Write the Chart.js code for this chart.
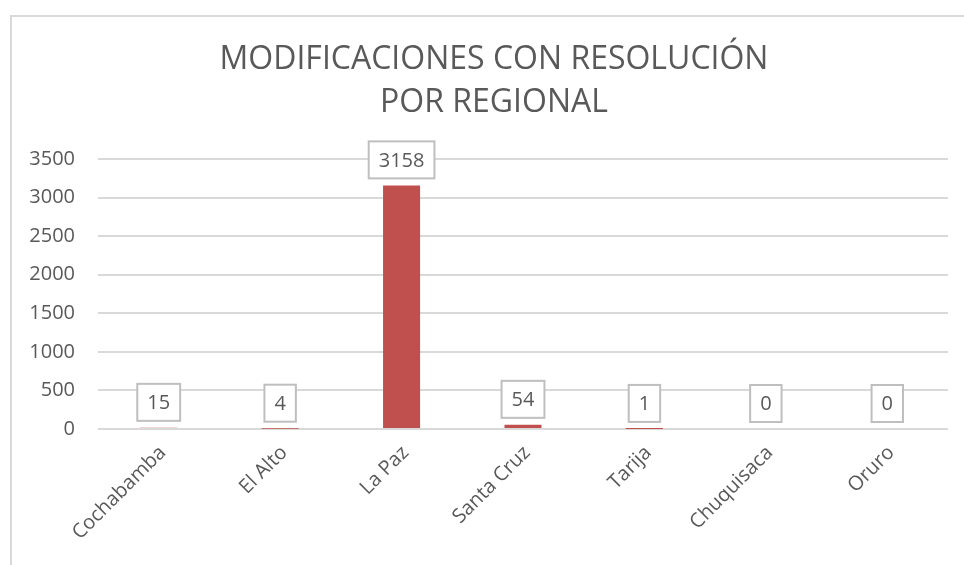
<!DOCTYPE html>
<html>
<head>
<meta charset="utf-8">
<script src="https://cdn.jsdelivr.net/npm/chart.js@4/dist/chart.umd.min.js"></script>
<style>
  html, body { margin: 0; padding: 0; background: #fff; overflow: hidden; width: 964px; height: 565px; }
  #wrap { position: absolute; left: 0; top: 0; width: 988px; height: 565px; }
  #frame { position: absolute; left: 10px; top: 15px; width: 1200px; height: 800px;
           border-left: 2px solid #d9d9d9; border-top: 2px solid #d9d9d9; pointer-events: none; }
</style>
</head>
<body>
<div id="wrap"><canvas id="c" width="988" height="565"></canvas></div>
<div id="frame"></div>
<script>
const categories = ["Cochabamba", "El Alto", "La Paz", "Santa Cruz", "Tarija", "Chuquisaca", "Oruro"];
const values = [15, 4, 3158, 54, 1, 0, 0];
const titleLines = ["MODIFICACIONES CON RESOLUCIÓN", "POR REGIONAL"];
const yMin = 0, yMax = 3500, yStep = 500;

const FONT = "'Open Sans', sans-serif";
const TEXT = "#595959";

// Title drawn centred over the whole chart object (which extends past the right edge)
const chartTitle = {
  id: 'chartTitle',
  afterDraw(chart) {
    const ctx = chart.ctx;
    ctx.save();
    ctx.font = "32px " + FONT;
    ctx.fillStyle = TEXT;
    ctx.textAlign = 'center';
    ctx.textBaseline = 'middle';
    titleLines.forEach((t, i) => ctx.fillText(t, 494, 60 + i * 43));
    ctx.restore();
  }
};

const boxLabels = {
  id: 'boxLabels',
  afterDatasetsDraw(chart) {
    const ctx = chart.ctx;
    const meta = chart.getDatasetMeta(0);
    ctx.save();
    ctx.font = "20px " + FONT;
    ctx.textAlign = 'center';
    ctx.textBaseline = 'middle';
    meta.data.forEach((el, i) => {
      const txt = String(chart.data.datasets[0].data[i]);
      const w = ctx.measureText(txt).width + 20;
      const h = 37;
      const bottom = el.y - 7;
      const top = bottom - h;
      ctx.fillStyle = '#fff';
      ctx.fillRect(el.x - w / 2, top, w, h);
      ctx.strokeStyle = '#bfbfbf';
      ctx.lineWidth = 2;
      ctx.strokeRect(el.x - w / 2, top, w, h);
      ctx.fillStyle = TEXT;
      ctx.fillText(txt, el.x, top + h / 2 + 1);
    });
    ctx.restore();
  }
};

new Chart(document.getElementById('c'), {
  type: 'bar',
  data: {
    labels: categories,
    datasets: [{
      data: values,
      backgroundColor: '#C0504D',
      borderWidth: 0,
      barPercentage: 0.305,
      categoryPercentage: 1.0
    }]
  },
  options: {
    responsive: false,
    animation: false,
    layout: { padding: { left: 0, right: 40, top: 159, bottom: 0 } },
    plugins: {
      legend: { display: false },
      tooltip: { enabled: false },
      title: { display: false }
    },
    scales: {
      y: {
        min: yMin, max: yMax,
        ticks: { stepSize: yStep, color: TEXT, font: { family: FONT, size: 20 }, padding: 23,
                 callback: (v) => String(v) },
        grid: { color: '#d9d9d9', lineWidth: 2, drawTicks: false },
        border: { display: false },
        afterFit(s) { s.width = 98; }
      },
      x: {
        ticks: { color: TEXT, font: { family: FONT, size: 20 }, minRotation: 45, maxRotation: 45,
                 padding: 12, labelOffset: 4 },
        grid: { display: false, drawTicks: false },
        border: { display: false },
        afterFit(s) { s.height = 136; }
      }
    }
  },
  plugins: [boxLabels, chartTitle]
});
</script>
</body>
</html>
